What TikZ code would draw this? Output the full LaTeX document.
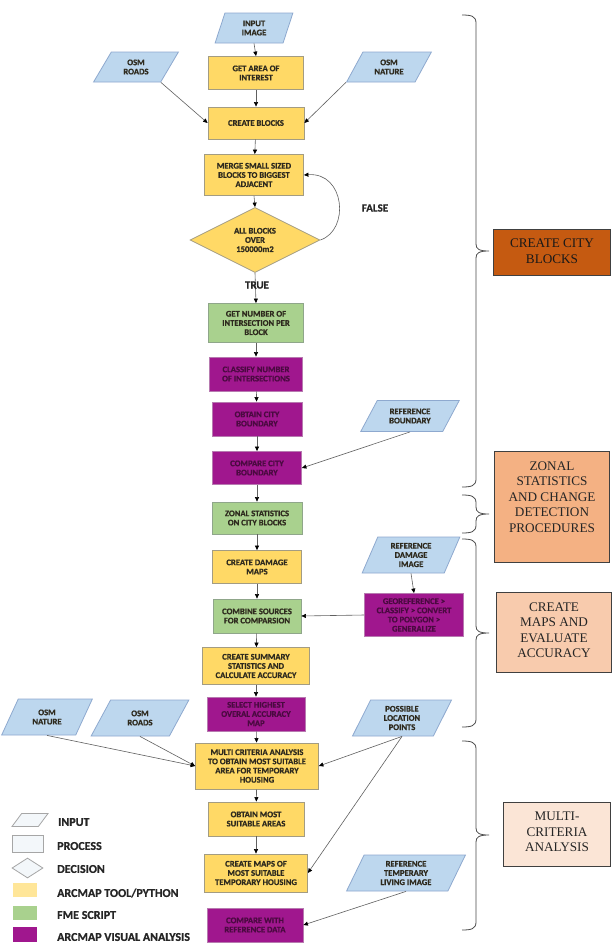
\documentclass[tikz,border=0pt]{standalone}
\usepackage{fontspec}
\usetikzlibrary{shapes.geometric,arrows.meta}
\newfontfamily\boxfont{Carlito}[BoldFeatures={FakeBold=0.8}]
\newfontfamily\labfont{Liberation Serif}
\definecolor{yfill}{HTML}{FFD966}
\definecolor{yline}{HTML}{A39C82}
\definecolor{gfill}{HTML}{A9D18E}
\definecolor{gline}{HTML}{8FA68A}
\definecolor{pfill}{HTML}{A0178E}
\definecolor{pline}{HTML}{B77AB0}
\definecolor{bfill}{HTML}{BDD7EE}
\definecolor{bline}{HTML}{8EA9CF}
\definecolor{ptext}{HTML}{4A0A40}
\definecolor{dtext}{HTML}{2E2A1E}
\definecolor{lab1}{HTML}{C55A11}
\definecolor{lab2}{HTML}{F4B183}
\definecolor{lab3}{HTML}{F8CBAD}
\definecolor{lab4}{HTML}{FBE5D6}
\definecolor{legy}{HTML}{FFE699}
\definecolor{legw}{HTML}{F3F7FA}
\definecolor{legtxt}{HTML}{262626}
\tikzset{
  x=1pt, y=-1pt,
  boxbase/.style={align=center, inner sep=1pt, line width=0.8pt,
    font=\boxfont\bfseries\fontsize{8.6}{9.2}\selectfont},
  yb/.style={boxbase, rectangle, draw=yline, fill=yfill, text=dtext},
  gb/.style={boxbase, rectangle, draw=gline, fill=gfill, text=dtext},
  pb/.style={boxbase, rectangle, draw=pline, fill=pfill, text=ptext},
  dec/.style={boxbase, diamond, draw=yline, fill=yfill, text=dtext, aspect=2},
  inp/.style={boxbase, trapezium, trapezium left angle=#1, trapezium right angle=180-#1,
    trapezium stretches=true, draw=bline, fill=bfill, text=dtext},
  inp/.default=60,
  arr/.style={draw=gray!75!black, line width=0.6pt, -{Triangle[length=4.5pt,width=4pt,color=black]}},
  brcline/.style={draw=gray!60!black, line width=0.8pt},
  labbox/.style={rectangle, draw=black!75, line width=0.8pt},
  labtext/.style={align=center, font=\labfont\fontsize{13.2}{15.5}\selectfont, text=black!85},
  legtext/.style={anchor=west, font=\boxfont\bfseries\fontsize{12}{13}\selectfont, text=legtxt, inner sep=0pt},
  legshape/.style={draw=gray!70, line width=0.8pt, fill=legw}
}
\newcommand\drawbrace[3]{%
  \draw[brcline] (462,#1) .. controls (471,#1) and (476,#1+1) .. (476,#1+8)
    -- (476,#2-7) .. controls (476,#2-2) and (479,#2) .. (489,#2)
    .. controls (479,#2) and (476,#2+2) .. (476,#2+7)
    -- (476,#3-8) .. controls (476,#3-1) and (471,#3) .. (462,#3);}
\begin{document}
\begin{tikzpicture}
\useasboundingbox[fill=white] (0,0) rectangle (615,948);

% inputs
\node[inp=75, minimum width=78pt, minimum height=30pt] (in) at (254,28) {INPUT\\IMAGE};
\node[inp, minimum width=85pt, minimum height=30pt] (osmr1) at (136,67) {OSM\\ROADS};
\node[inp, minimum width=85pt, minimum height=30pt] (osmn1) at (389,67) {OSM\\NATURE};
\node[inp=57, minimum width=99pt, minimum height=31pt] (refb) at (410,416) {REFERENCE\\BOUNDARY};
\node[inp=69, minimum width=98pt, minimum height=36pt] (refd) at (411,555) {REFERENCE\\DAMAGE\\IMAGE};
\node[inp=62, minimum width=91pt, minimum height=36pt] (osmn2) at (47,717) {OSM\\NATURE};
\node[inp=62, minimum width=98pt, minimum height=36pt] (osmr2) at (140,718) {OSM\\ROADS};
\node[inp=67, minimum width=99pt, minimum height=36pt] (pos) at (402,718) {POSSIBLE\\LOCATION\\POINTS};
\node[inp=67, minimum width=119pt, minimum height=36pt] (reft) at (406,873) {REFERENCE\\TEMPERARY\\LIVING IMAGE};

% process boxes
\node[yb, minimum width=95pt, minimum height=33pt] (gai) at (256,73) {GET AREA OF\\INTEREST};
\node[yb, minimum width=96pt, minimum height=32pt] (cb) at (256,123) {CREATE BLOCKS};
\node[yb, minimum width=99pt, minimum height=41pt] (merge) at (254,175) {MERGE SMALL SIZED\\BLOCKS TO BIGGEST\\ADJACENT};
\node[dec, minimum width=130pt, minimum height=65pt] (dc) at (255,240) {ALL BLOCKS\\OVER\\150000m2};
\node[gb, minimum width=95pt, minimum height=39pt] (gni) at (256,323) {GET NUMBER OF\\INTERSECTION PER\\BLOCK};
\node[pb, minimum width=93pt, minimum height=34pt] (cls) at (256,374) {CLASSIFY NUMBER\\OF INTERSECTIONS};
\node[pb, minimum width=90pt, minimum height=34pt] (obt) at (257,419) {OBTAIN CITY\\BOUNDARY};
\node[pb, minimum width=89pt, minimum height=33pt] (cmp) at (257,468) {COMPARE CITY\\BOUNDARY};
\node[gb, minimum width=90pt, minimum height=32pt] (zon) at (257,518) {ZONAL STATISTICS\\ON CITY BLOCKS};
\node[yb, minimum width=89pt, minimum height=33pt] (cdm) at (257,567) {CREATE DAMAGE\\MAPS};
\node[gb, minimum width=88pt, minimum height=34pt] (cmb) at (257,616) {COMBINE SOURCES\\FOR COMPARSION};
\node[pb, minimum width=99pt, minimum height=43pt] (geo) at (414,615) {GEOREFERENCE >\\CLASSIFY > CONVERT\\TO POLYGON >\\GENERALIZE};
\node[yb, minimum width=107pt, minimum height=37pt] (css) at (256,666) {CREATE SUMMARY\\STATISTICS AND\\CALCULATE ACCURACY};
\node[pb, minimum width=98pt, minimum height=34pt] (sel) at (256,714) {SELECT HIGHEST\\OVERAL ACCURACY\\MAP};
\node[yb, minimum width=123pt, minimum height=46pt] (mca) at (257,766) {MULTI CRITERIA ANALYSIS\\TO OBTAIN MOST SUITABLE\\AREA FOR TEMPORARY\\HOUSING};
\node[yb, minimum width=96pt, minimum height=34pt] (oms) at (256,819) {OBTAIN MOST\\SUITABLE AREAS};
\node[yb, minimum width=103pt, minimum height=38pt] (cms) at (256,873) {CREATE MAPS OF\\MOST SUITABLE\\TEMPORARY HOUSING};
\node[pb, minimum width=96pt, minimum height=34pt] (cwr) at (255,925) {COMPARE WITH\\REFERENCE DATA};

% vertical flow
\draw[arr] (in.south) -- (gai.north);
\draw[arr] (gai) -- (cb);
\draw[arr] (cb) -- (merge);
\draw[arr] (merge.south) -- (dc.north);
\draw[arr] (dc.south) -- (gni.north);
\draw[arr] (gni) -- (cls);
\draw[arr] (cls) -- (obt);
\draw[arr] (obt) -- (cmp);
\draw[arr] (cmp) -- (zon);
\draw[arr] (zon) -- (cdm);
\draw[arr] (cdm) -- (cmb);
\draw[arr] (cmb) -- (css);
\draw[arr] (css) -- (sel);
\draw[arr] (sel) -- (mca);
\draw[arr] (mca) -- (oms);
\draw[arr] (oms) -- (cms);

% side connectors
\draw[arr] (osmr1.bottom right corner) -- (cb.west);
\draw[arr] (osmn1.bottom left corner) -- (cb.east);
\draw[arr] (refb.south) -- (cmp.east);
\draw[arr] (refd.south) -- (geo.north);
\draw[arr] (geo.west) -- (cmb.east);
\draw[arr] (osmn2.south) -- (mca.west);
\draw[arr] (osmr2.south) -- (mca.west);
\draw[arr] (pos.south) -- (mca.east);
\draw[arr] (pos.south) -- (cms.east);
\draw[arr] (reft.south) -- (cwr.east);
\draw[arr] (dc.east) .. controls (350,230) and (345,172) .. (merge.east);

\node[font=\boxfont\bfseries\fontsize{11}{12}\selectfont, text=legtxt] (fl) at (375,208) {FALSE};
\node[font=\boxfont\bfseries\fontsize{11}{12}\selectfont, text=legtxt] (tr) at (257,285) {TRUE};

% braces
\drawbrace{15}{251}{487}
\drawbrace{495}{514}{533}
\drawbrace{539}{633}{727}
\drawbrace{741}{835}{930}

\node[labbox, fill=lab1, minimum width=117pt, minimum height=46pt] (l1) at (552,252) {};
\node[labtext, text=black!90] at (552,251) {CREATE CITY\\BLOCKS};
\node[labbox, fill=lab2, minimum width=115pt, minimum height=111pt] (l2) at (552,507) {};
\node[labtext] at (552,497) {ZONAL\\STATISTICS\\AND CHANGE\\DETECTION\\PROCEDURES};
\node[labbox, fill=lab3, minimum width=115pt, minimum height=80pt] (l3) at (554,632) {};
\node[labtext] at (554,630) {CREATE\\MAPS AND\\EVALUATE\\ACCURACY};
\node[labbox, fill=lab4, minimum width=107pt, minimum height=64pt] (l4) at (557,834) {};
\node[labtext] at (557,832) {MULTI-\\CRITERIA\\ANALYSIS};

% legend
\node[legshape, trapezium, trapezium left angle=60, trapezium right angle=120, trapezium stretches=true, minimum width=36pt, minimum height=13pt, inner sep=1pt] (lgi) at (30,820) {};
\node[legshape, rectangle, minimum width=31pt, minimum height=17pt, inner sep=0pt] (lgp) at (27.5,843.5) {};
\node[legshape, diamond, minimum width=31pt, minimum height=20pt, inner sep=1pt] (lgd) at (27.5,868) {};
\node[rectangle, fill=legy, minimum width=24pt, minimum height=14pt, inner sep=0pt] (lgy) at (25,890) {};
\node[rectangle, fill=gfill, minimum width=24pt, minimum height=14pt, inner sep=0pt] (lgg) at (25,913) {};
\node[rectangle, fill=pfill, minimum width=24pt, minimum height=15pt, inner sep=0pt] (lgpu) at (25,934.5) {};
\node[legtext] (t1) at (58,822) {INPUT};
\node[legtext] (t2) at (57,846) {PROCESS};
\node[legtext] (t3) at (57,869) {DECISION};
\node[legtext] (t4) at (57,893) {ARCMAP TOOL/PYTHON};
\node[legtext] (t5) at (57,915) {FME SCRIPT};
\node[legtext] (t6) at (57,937) {ARCMAP VISUAL ANALYSIS};
\end{tikzpicture}
\end{document}
